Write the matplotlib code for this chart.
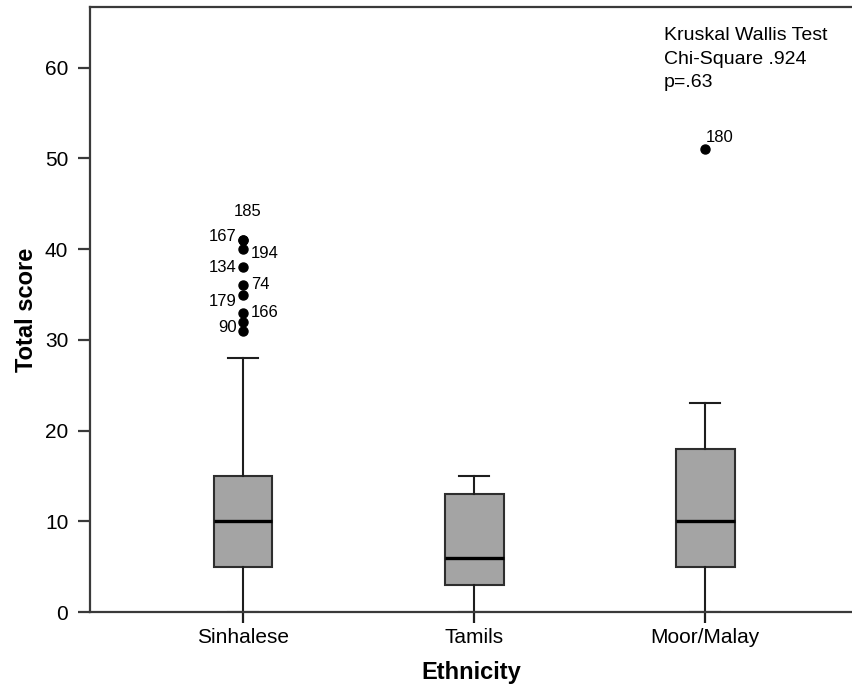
import matplotlib
matplotlib.use('Agg')

import matplotlib.pyplot as plt

# data
groups = ['Sinhalese', 'Tamils', 'Moor/Malay']
q1 = [5, 3, 5]
medians = [10, 6, 10]
q3 = [15, 13, 18]
whisk_lo = [0, 0, 0]
whisk_hi = [28, 15, 23]

sinh_outliers = [41, 41, 40, 38, 36, 35, 33, 32, 31]
moor_outliers = [51]

# case numbers printed next to the outliers (value, id)
sinh_ids = [(41, '185'), (41, '167'), (40, '194'), (38, '134'), (36, '74'),
            (35, '179'), (33, '166'), (31, '90')]
moor_ids = [(51, '180')]

stats_text = 'Kruskal Wallis Test\nChi-Square .924\np=.63'

plt.rcParams['font.family'] = ['Liberation Sans', 'DejaVu Sans']

fig = plt.figure(figsize=(8.53, 6.85), dpi=100)
ax = fig.add_axes([90 / 853, 73 / 685, 763 / 853, 605 / 685])

fliers = [sinh_outliers, [], moor_outliers]
stats = []
for i, g in enumerate(groups):
    stats.append(dict(label=g, med=medians[i], q1=q1[i], q3=q3[i],
                      whislo=whisk_lo[i], whishi=whisk_hi[i], fliers=fliers[i]))

pos = list(range(len(groups)))
ax.bxp(stats, positions=pos, widths=0.255, patch_artist=True,
       boxprops=dict(facecolor='#a4a4a4', edgecolor='#2e2e2e', linewidth=1.5),
       medianprops=dict(color='black', linewidth=2.4),
       whiskerprops=dict(color='#1e1e1e', linewidth=1.5),
       capprops=dict(color='#1e1e1e', linewidth=1.5),
       capwidths=0.13,
       flierprops=dict(marker='o', markerfacecolor='black', markeredgecolor='black',
                       markersize=6.5, linestyle='none'))

# outlier labels: offsets in pixels (dx, dy) from the point
sinh_offsets = {'185': (5, 29, 'center'), '167': (-6, 4, 'right'),
                '194': (8, -4, 'left'), '134': (-6, 0, 'right'),
                '74': (8, 1, 'left'), '179': (-6, -7, 'right'),
                '166': (8, 0, 'left'), '90': (-6, 3, 'right')}
for v, lab in sinh_ids:
    dx, dy, ha = sinh_offsets[lab]
    ax.annotate(lab, (0, v), xytext=(dx * 0.72, dy * 0.72), textcoords='offset points',
                ha=ha, va='center', fontsize=12)
for v, lab in moor_ids:
    ax.annotate(lab, (2, v), xytext=(1 * 0.72, 12 * 0.72), textcoords='offset points',
                ha='left', va='center', fontsize=12)

ax.text(664 / 853, 1 - 27 / 685, stats_text, transform=fig.transFigure,
        ha='left', va='top', fontsize=14, linespacing=1.5)

ax.set_xlim(-0.662, 2.64)
ax.set_ylim(0, 66.7)
ax.set_yticks([0, 10, 20, 30, 40, 50, 60])
ax.set_xticks(pos)
ax.set_xticklabels(groups)

for s in ['left', 'top', 'bottom']:
    ax.spines[s].set_color('#3a3a3a')
    ax.spines[s].set_linewidth(1.6)
ax.spines['right'].set_visible(False)

ax.tick_params(axis='y', length=8.6, width=1.6, color='#3a3a3a', pad=7, labelsize=15)
ax.tick_params(axis='x', length=8, width=1.6, color='#1e1e1e', pad=3.5, labelsize=15)

ax.set_xlabel('Ethnicity', fontsize=17, fontweight='bold', labelpad=10)
ax.set_ylabel('Total score', fontsize=17, fontweight='bold', labelpad=5)

fig.savefig('out.png', dpi=100)
